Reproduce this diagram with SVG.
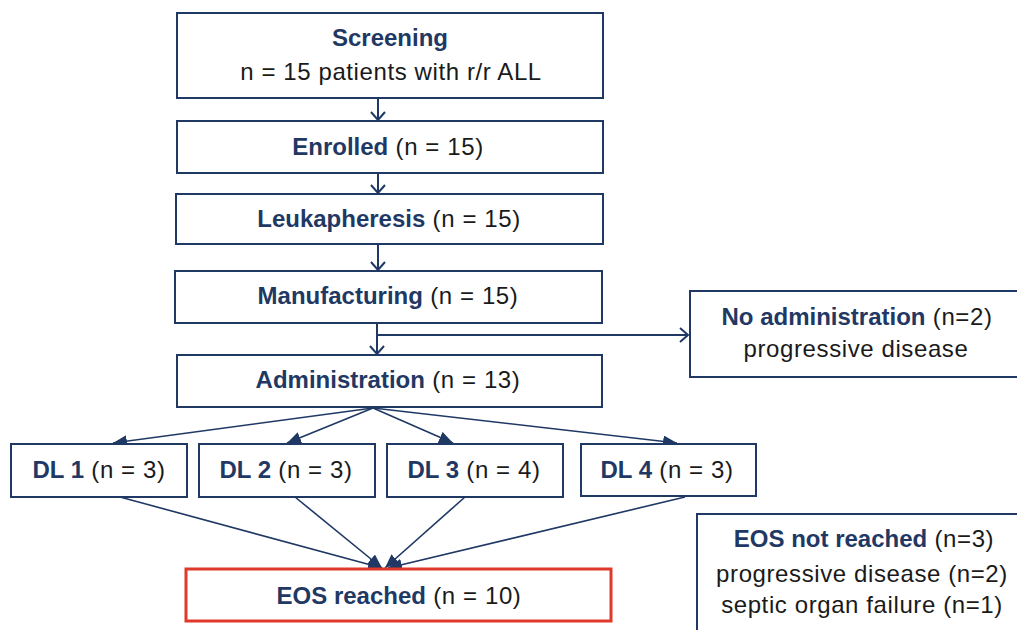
<svg xmlns="http://www.w3.org/2000/svg" width="1017" height="630" viewBox="0 0 1017 630">
<defs>
<style>
.box{fill:#fff;stroke:#1f3864;stroke-width:2}
.red{fill:#fff;stroke:#e0392b;stroke-width:3}
.t{font-family:"Liberation Sans",Arial,sans-serif;font-size:24px;fill:#1a1a1a;text-anchor:middle;letter-spacing:0.6px}
.b{font-weight:bold;fill:#1f3864;letter-spacing:0}
.c{fill:none;stroke:#1f3864;stroke-width:2}
.d{fill:none;stroke:#1f3864;stroke-width:1.6}
</style>
<marker id="open" markerUnits="userSpaceOnUse" markerWidth="20" markerHeight="20" refX="9" refY="8" orient="auto" viewBox="0 0 20 16">
<path d="M1,1 L9,8 L1,15" fill="none" stroke="#1f3864" stroke-width="2"/>
</marker>
<marker id="fill" markerUnits="userSpaceOnUse" markerWidth="16" markerHeight="12" refX="14" refY="6" orient="auto" viewBox="0 0 16 12">
<path d="M0,0 L14,6 L0,12 Z" fill="#1f3864"/>
</marker>
</defs>
<g id="connectors">
<line class="c" x1="378" y1="98" x2="378" y2="120" marker-end="url(#open)"/>
<line class="c" x1="378" y1="173" x2="378" y2="193" marker-end="url(#open)"/>
<line class="c" x1="378" y1="244" x2="378" y2="270" marker-end="url(#open)"/>
<line class="c" x1="377" y1="323" x2="377" y2="354" marker-end="url(#open)"/>
<line class="c" x1="377" y1="335" x2="688" y2="335" marker-end="url(#open)"/>
<line class="d" x1="373" y1="408" x2="113" y2="443" marker-end="url(#fill)"/>
<line class="d" x1="373" y1="408" x2="287" y2="443" marker-end="url(#fill)"/>
<line class="d" x1="373" y1="408" x2="453" y2="443" marker-end="url(#fill)"/>
<line class="d" x1="373" y1="408" x2="677" y2="443" marker-end="url(#fill)"/>
<line class="d" x1="120" y1="497" x2="382" y2="568" marker-end="url(#fill)"/>
<line class="d" x1="295" y1="497" x2="382" y2="568" marker-end="url(#fill)"/>
<line class="d" x1="465" y1="497" x2="385" y2="568" marker-end="url(#fill)"/>
<line class="d" x1="685" y1="497" x2="388" y2="568" marker-end="url(#fill)"/>
</g>
<g id="screening">
<rect class="box" x="177" y="13" width="426" height="85"/>
<text class="t" x="390" y="46"><tspan class="b">Screening</tspan></text>
<text class="t" x="391" y="80">n = 15 patients with r/r ALL</text>
</g>
<g id="enrolled">
<rect class="box" x="177" y="121" width="426" height="52"/>
<text class="t" x="388" y="155"><tspan class="b">Enrolled</tspan> (n = 15)</text>
</g>
<g id="leukapheresis">
<rect class="box" x="176" y="194" width="427" height="50"/>
<text class="t" x="389" y="227"><tspan class="b">Leukapheresis</tspan> (n = 15)</text>
</g>
<g id="manufacturing">
<rect class="box" x="175" y="271" width="427" height="52"/>
<text class="t" x="388" y="304"><tspan class="b">Manufacturing</tspan> (n = 15)</text>
</g>
<g id="administration">
<rect class="box" x="177" y="355" width="425" height="52"/>
<text class="t" x="388" y="388"><tspan class="b">Administration</tspan> (n = 13)</text>
</g>
<g id="no-administration">
<rect class="box" x="690" y="291" width="340" height="86"/>
<text class="t" x="857" y="325"><tspan class="b">No administration</tspan> (n=2)</text>
<text class="t" x="856" y="357">progressive disease</text>
</g>
<g id="dl1">
<rect class="box" x="11" y="444" width="176" height="53"/>
<text class="t" x="99" y="478"><tspan class="b">DL 1</tspan> (n = 3)</text>
</g>
<g id="dl2">
<rect class="box" x="199" y="444" width="176" height="53"/>
<text class="t" x="286" y="478"><tspan class="b">DL 2</tspan> (n = 3)</text>
</g>
<g id="dl3">
<rect class="box" x="387" y="444" width="176" height="53"/>
<text class="t" x="474" y="478"><tspan class="b">DL 3</tspan> (n = 4)</text>
</g>
<g id="dl4">
<rect class="box" x="581" y="444" width="175" height="52"/>
<text class="t" x="667" y="478"><tspan class="b">DL 4</tspan> (n = 3)</text>
</g>
<g id="eos-reached">
<rect class="red" x="186" y="569" width="425" height="52"/>
<text class="t" x="399" y="604"><tspan class="b">EOS reached</tspan> (n = 10)</text>
</g>
<g id="eos-not-reached">
<rect class="box" x="697" y="514" width="340" height="130"/>
<text class="t" x="864" y="547"><tspan class="b">EOS not reached</tspan> (n=3)</text>
<text class="t" x="862" y="582">progressive disease (n=2)</text>
<text class="t" x="862" y="613">septic organ failure (n=1)</text>
</g>
</svg>
